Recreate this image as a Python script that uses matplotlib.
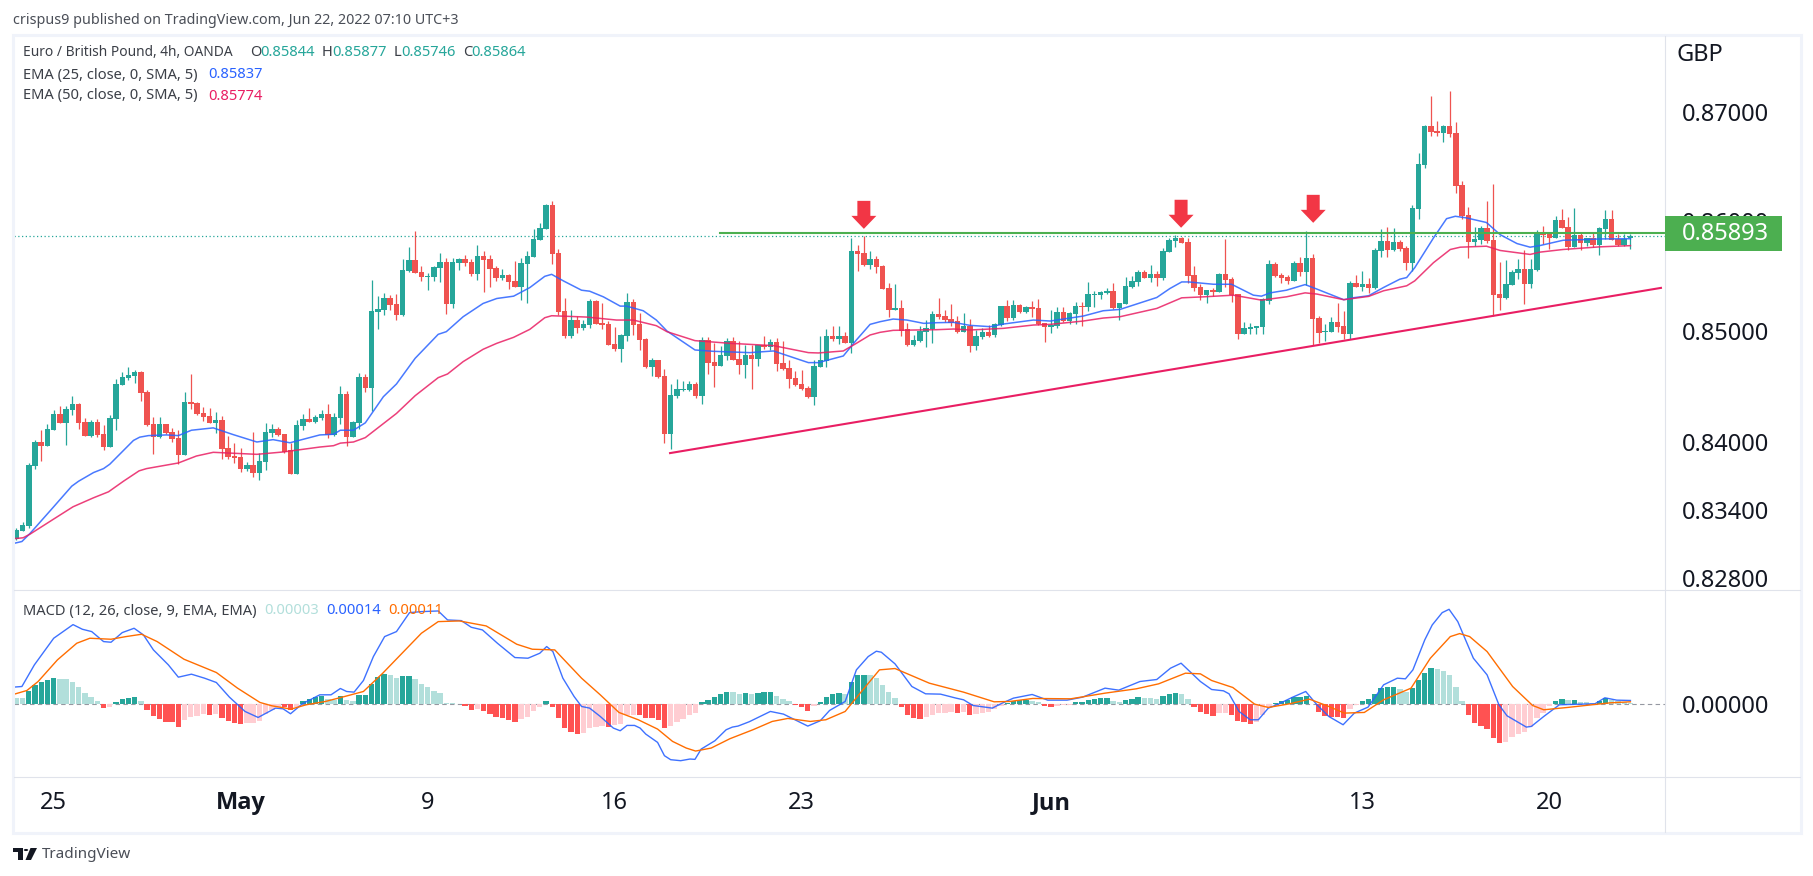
#!/usr/bin/env python3
"""EUR/GBP 4h candles with EMA 25/50 and a MACD pane, TradingView look."""
import numpy as np
import matplotlib
matplotlib.use('Agg')
import matplotlib.pyplot as plt
from matplotlib.lines import Line2D
from matplotlib.patches import Polygon, Rectangle, Circle

W, H = 1813, 876
plt.rcParams['font.family'] = ['Noto Sans', 'DejaVu Sans']

# candles, in pips above 0.85000
OPEN_PIPS = [
    -186, -179, -174, -121.2, -99.9, -103.2, -88.8, -74.7, -82.5, -70.8,
    -65.7, -81.9, -94.2, -81.9, -92.7, -104.1, -78.9, -48.3, -42.3, -40.2,
    -36.9, -54.9, -83.7, -95.1, -83.7, -90.9, -96.3, -111.6, -63.9, -64.8,
    -73.8, -76.5, -82.8, -80.1, -105.3, -112.5, -113.4, -123.3, -119.7, -126.9,
    -117, -91.8, -88.2, -92.7, -107.1, -127.8, -85.5, -79.2, -81.9, -78.3,
    -74.7, -93.6, -78.3, -56.7, -95.4, -82.8, -41.4, -51.3, 17.1, 18.9,
    29.7, 24.3, 14.4, 54, 63.9, 53.1, 48.9, 48.6, 56.7, 62.1,
    24.3, 61.2, 64.8, 62.1, 51.3, 68.4, 64.8, 56.7, 47.7, 50.4,
    45, 39.6, 60.3, 67.5, 82.8, 92.7, 114.3, 71.1, 18, -4.5,
    9.9, 2.7, 5.4, 27, 7.2, 6.3, -11.7, -16.2, -4.5, 26.1,
    6.3, -7.2, -32.4, -26.1, -40.5, -92.7, -58.5, -53.1, -53.1, -47.7,
    -58.5, -8.1, -27.9, -31.5, -22.5, -9, -25.2, -30.6, -21.6, -25.2,
    -12.6, -14.4, -9.9, -28.8, -33.3, -42.3, -47.7, -51.3, -59.4, -32.4,
    -27, -4.5, -7.2, -4.5, -10.8, 72.9, 71.1, 59.4, 64.8, 58.5,
    38.7, 18.9, 20.7, 1.8, -12.6, -9, -0.9, 1.8, 15.3, 13.5,
    10.8, 9, -0.9, 4.5, -13.5, -5.4, -0.9, -3.6, 5.4, 22.5,
    11.7, 23.4, 17.1, 21.6, 20.7, 7.2, 3.6, 4.5, 17.1, 9,
    15.3, 22.5, 21.6, 32.4, 32.4, 34.2, 36, 20.7, 24.3, 39.6,
    44.1, 53.1, 47.7, 51.3, 47.7, 72, 81.9, 84.6, 81, 50.4,
    39.6, 32.4, 36.9, 35.1, 51.3, 46.8, 33.3, -2.7, 1.8, 2.7,
    3.6, 27.3, 60.3, 50.4, 48.6, 45, 61.2, 53.1, 65.7, 11.7,
    -0.8, -0.8, 8.2, 4.6, -2.6, 43.3, 39.7, 42.4, 38.8, 72.1,
    82, 73, 81.1, 74.8, 61.3, 111.2, 151.4, 186.9, 182.4, 180.5,
    186.9, 180.5, 133.1, 105.8, 81.1, 82.9, 93.7, 82.9, 33.4, 29.8,
    41.5, 52.3, 55.9, 42.4, 55, 88.3, 88.3, 84.7, 101.2, 94.6,
    76.6, 87.4, 80.2, 84.7, 78.4, 92.8, 102.1, 83.8, 78.4, 84.4,
]
HIGH_PIPS = [
    -176, -171, -118, -98.1, -89.1, -83.7, -71.1, -67.5, -67.5, -58.5,
    -64.8, -78.3, -80.1, -79.2, -84.6, -75.6, -43.2, -36.9, -32.4, -35.1,
    -36, -53.1, -77.4, -77.4, -83.7, -87.3, -89.1, -54.9, -38.7, -63.9,
    -68.4, -69.3, -72.9, -76.5, -94.5, -100.8, -105.3, -117, -90.9, -109.8,
    -82.8, -83.7, -86.4, -92.7, -100.8, -80.1, -74.7, -69.3, -75.6, -71.1,
    -65.7, -73.8, -49.5, -54, -81, -37.8, -38.7, 45.9, 31.5, 34.2,
    32.4, 33.3, 64.8, 76.5, 90.9, 58.5, 52.2, 58.5, 71.1, 66.6,
    65.7, 65.7, 69.3, 64.8, 78.3, 72.9, 69.3, 58.5, 55.8, 51.3,
    63, 65.7, 72.9, 92.7, 98.1, 115.2, 117.9, 74.7, 29.7, 18.9,
    13.5, 9.9, 28.8, 27.9, 25.2, 9, 3.6, -2.7, 34.2, 28.8,
    16.2, -6.3, -24.3, -26.1, -34.2, -47.7, -43.2, -45, -45, -45.9,
    -5.4, -5.4, -10.8, -13.5, -6.3, -5.4, -9, -12.6, -12.6, -12.6,
    -4.5, -7.2, -6.3, -9, -26.1, -36, -35.1, -49.5, -26.1, -4.5,
    1.8, 4.5, 4.5, -0.9, 84.6, 78.3, 86.4, 72.9, 68.4, 59.4,
    43.2, 42.3, 27.9, 7.2, -3.6, 4.5, 9.9, 18, 29.7, 18.9,
    24.3, 13.5, 16.2, 10.8, 0.9, 2.7, 5.4, 7.2, 22.5, 27.9,
    27.9, 24.3, 22.5, 27, 28.8, 7.2, 18.9, 21.6, 21.6, 17.1,
    26.1, 26.1, 44.1, 36, 36, 38.7, 43.2, 25.2, 48.6, 49.5,
    54.9, 54.9, 59.4, 54, 75.6, 84.6, 87.3, 85.5, 84.6, 58.5,
    42.3, 36.9, 38.7, 52.2, 83.7, 48.6, 33.3, 8.1, 7.2, 4.5,
    29.7, 63.9, 62.1, 52.2, 50.4, 63, 67.5, 90.9, 70.2, 13.5,
    6.4, 12.7, 25.3, 18.1, 45.1, 50.5, 54.1, 47.8, 75.7, 92.8,
    94.6, 93.7, 82.9, 77.5, 114.9, 162.3, 187.8, 215.2, 191.5, 187.8,
    219.8, 190.6, 136.8, 113.1, 94.6, 95.5, 118.5, 134, 62.2, 64,
    55, 64.9, 73, 64.9, 91.9, 95.5, 89.2, 104.8, 111.2, 103.9,
    112.1, 89.2, 84.7, 89.2, 94.6, 110.3, 110.3, 88.3, 88.3, 87.7,
]
LOW_PIPS = [
    -187, -179, -176, -123.9, -116.1, -103.2, -89.1, -82.5, -102.3, -75.3,
    -88.2, -94.2, -95.1, -95.1, -106.8, -104.1, -89.1, -48.3, -44.1, -46.8,
    -63, -85.5, -110.7, -96.3, -92.7, -99.9, -118.8, -111.6, -70.2, -75.6,
    -81, -82.8, -91.8, -115.2, -115.2, -117.9, -126, -125.1, -130.5, -133.2,
    -124.2, -95.4, -94.5, -109.8, -127.8, -127.8, -89.1, -81.9, -82.8, -80.1,
    -96.3, -94.5, -83.7, -103.5, -95.4, -88.2, -54.9, -72, 1.8, 14.4,
    18.9, 9.9, 13.5, 53.1, 52.2, 45, 36.9, 45, 44.1, 15.3,
    20.7, 54.9, 58.5, 49.5, 45.9, 35.1, 39.6, 45, 45.9, 37.8,
    39.6, 27.9, 25.2, 67.5, 82.8, 92.7, 60.3, 14.4, -6.3, -6.3,
    -1.8, 0.9, 2.7, 6.3, 1.8, -12.6, -18, -27.9, -9, -3.6,
    -17.1, -33.3, -40.5, -42.3, -100.8, -106.2, -60.3, -54, -54, -60.3,
    -65.7, -38.7, -50.4, -31.5, -26.1, -26.1, -38.7, -42.3, -52.2, -31.5,
    -16.2, -17.1, -36, -35.1, -51.3, -49.5, -53.1, -60.3, -66.6, -32.4,
    -32.4, -9, -11.7, -10.8, -19.8, 54, 58.5, 55.8, 52.2, 37.8,
    12.6, 18.9, -4.5, -13.5, -13.5, -9.9, -14.4, -10.8, 10.8, 8.1,
    4.5, -1.8, -0.9, -18.9, -17.1, -7.2, -5.4, -5.4, 4.5, 9,
    9.9, 16.2, 16.2, 12.6, 5.4, -9.9, -1.8, 2.7, 8.1, 6.3,
    6.3, 4.5, 18, 21.6, 28.8, 33.3, 19.8, 9.9, 24.3, 38.7,
    40.5, 47.7, 44.1, 40.5, 45.9, 72, 76.5, 80.1, 43.2, 36,
    27.9, 25.2, 31.5, 35.1, 39.6, 26.1, -7.2, -2.7, -2.7, -2.7,
    -2.7, 24.3, 48.6, 43.2, 42.3, 45, 49.5, 41.4, -12.6, -10.8,
    -8.9, -0.8, -0.8, -7.1, -7.1, 39.7, 36.1, 34.3, 37.9, 66.7,
    66.7, 72.1, 72.1, 55, 54.1, 102.1, 148.6, 177.8, 177.8, 172.3,
    176.9, 125.8, 102.1, 65.8, 77.5, 79.3, 80.2, 13.6, 19, 28.9,
    41.5, 46.9, 24.4, 38.8, 54.1, 79.3, 73.9, 84.7, 93.7, 73,
    76.6, 73, 77.5, 76.6, 68.5, 83.8, 82.9, 77.5, 77.5, 74.6,
]
CLOSE_PIPS = [
    -178, -173.7, -120, -99.9, -103.2, -88.2, -74.7, -82.5, -70.2, -65.7,
    -82.5, -94.2, -81.9, -93.6, -104.1, -78.3, -47.7, -41.4, -39.6, -36.9,
    -55.5, -84.6, -95.1, -83.7, -91.8, -96.9, -111.6, -63.9, -65.7, -74.7,
    -77.4, -82.5, -80.1, -106.2, -113.4, -114.3, -123.3, -119.7, -126.9, -116.1,
    -90.9, -88.2, -93.6, -108.9, -127.8, -84.6, -79.2, -81.9, -77.4, -74.7,
    -93.6, -77.4, -56.7, -95.4, -81.9, -41.4, -51.3, 18, 19.8, 29.7,
    23.4, 14.4, 54.9, 63.9, 52.2, 48.6, 49.5, 57.6, 62.1, 24.3,
    62.1, 64.8, 61.2, 51.3, 68.4, 63.9, 55.8, 47.7, 50.4, 44.1,
    39.6, 61.2, 68.4, 83.7, 93.6, 114.3, 70.2, 17.1, -4.5, 9.9,
    2.7, 6.3, 27, 6.3, 5.4, -12.6, -16.2, -3.6, 26.1, 5.4,
    -8.1, -32.4, -26.1, -41.4, -92.7, -57.6, -52.2, -52.2, -47.7, -58.5,
    -8.1, -28.8, -31.5, -21.6, -9, -26.1, -30.6, -21.6, -25.2, -12.6,
    -14.4, -9.9, -29.7, -34.2, -43.2, -48.6, -52.2, -59.4, -31.5, -26.1,
    -4.5, -7.2, -4.5, -10.8, 72.9, 70.2, 59.4, 64.8, 57.6, 37.8,
    18.9, 20.7, 0, -12.6, -8.1, 0, 2.7, 15.3, 12.6, 9.9,
    7.2, -0.9, 4.5, -13.5, -4.5, -0.9, -4.5, 6.3, 22.5, 11.7,
    23.4, 17.1, 21.6, 19.8, 6.3, 3.6, 5.4, 17.1, 9, 16.2,
    22.5, 21.6, 33.3, 33.3, 35.1, 36, 20.7, 25.2, 40.5, 45,
    53.1, 47.7, 51.3, 47.7, 72.9, 82.8, 84.6, 80.1, 49.5, 38.7,
    32.4, 36.9, 35.1, 51.3, 45.9, 32.4, -2.7, 2.7, 3.6, 4.5,
    28.5, 60.3, 49.5, 47.7, 45, 61.2, 53.1, 65.7, 10.8, -1.8,
    0.1, 8.2, 3.7, -2.6, 43.3, 39.7, 42.4, 38.8, 73, 82,
    73, 81.1, 73.9, 61.3, 112.1, 152.3, 186.9, 181.5, 180.5, 186.9,
    179.6, 132.2, 104.8, 81.1, 83.8, 93.7, 81.7, 32.5, 29.8, 42.4,
    53.2, 55.9, 42.4, 55.9, 88.3, 87.4, 84.7, 101.2, 93.7, 76.6,
    87.4, 80.2, 84.7, 78.4, 93.7, 102.1, 82.9, 78.4, 83.8, 86.4,
]

# moving averages: bar index and pips above 0.85000 at each vertex
EMA25_BAR = [
    -0.5, 0.9, 2.2, 5.9, 8.9, 10, 12.4, 14, 15, 18.8, 19.8, 21.2, 24.1, 26, 28.1, 31.6, 34.8, 38.6,
    41.2, 43.9, 48.7, 50.9, 52, 54.1, 56, 58.9, 61, 64, 67.7, 69, 71.7, 74.9, 77.1, 79.8, 82.4, 84.8,
    85.9, 87.8, 90.7, 92, 94.2, 96.9, 97.9, 100.6, 102.7, 104.4, 108.9, 111.8, 117.7, 121.5, 127.1,
    128.7, 132.7, 134.8, 137, 138.6, 140.7, 142.9, 145.6, 147.7, 150.4, 153, 156.3, 158.4, 163.2,
    165.9, 171.2, 174.4, 177.1, 183, 185.1, 187, 188.1, 192.1, 195, 198.5, 199.8, 201.2, 203.8, 206.8,
    208.7, 213, 214.6, 217, 219.4, 222, 223.1, 224.4, 227.4, 229.5, 230.9, 232.7, 235.9, 238.1, 240.8,
    242.9, 244.5, 248.2, 251.5, 254.1, 259,
]
EMA25_PIPS = [
    -189.7, -187.9, -180.8, -157.8, -138.9, -134.5, -126.8, -123.3, -119.4, -98.2, -95.3, -93.9, -93.3,
    -93.9, -89.1, -87, -93, -99.6, -97.5, -100.3, -93.3, -92.7, -89.1, -89.1, -82.5, -59.1, -47.7, -24.6,
    -3, -0.6, 12.9, 24.9, 29.4, 31.5, 39.3, 49.5, 51.3, 45.3, 36.9, 36, 30.9, 22.5, 22.5, 18.3, 9.9, 0,
    -17.1, -18.3, -19.5, -18, -28.5, -28.5, -22.5, -8.1, 6, 8.4, 10.8, 9.9, 6.9, 7.5, 7.8, 5.1, 3.9, 6.3,
    9.9, 9, 13.5, 18.3, 19.5, 30.3, 38.4, 44.4, 44.4, 42.3, 42.3, 32.4, 31.5, 34.5, 36.9, 42,
    37.9, 28.3, 30.1, 31.9, 39.4, 46.9, 48.4, 57.4, 84.4, 102, 104.2, 102.7, 98.5, 87.4, 79.3,
    76, 77.5, 82.3, 82.9, 83.5, 83.7,
]
EMA50_BAR = [
    -0.5, 1.1, 2.2, 5.9, 9.1, 12.4, 14.8, 17.2, 19.7, 20.9, 26, 28.9, 31.6, 38.6, 42.8, 48.7, 50.9, 52,
    54.1, 56, 61, 64, 67.7, 69.2, 71.7, 74.9, 77.1, 79.8, 82.4, 84.8, 85.9, 91.5, 96.3, 99, 102.7,
    104.4, 108.9, 114.5, 121.5, 127.1, 128.7, 132.7, 134.8, 137, 138.6, 140.7, 147.7, 150.4, 153,
    156.3, 158.4, 163.2, 165.9, 171.2, 174.4, 177.1, 183, 187, 190.5, 195.3, 199.8, 203.8, 206.8, 208.7,
    213, 217, 219.4, 223.1, 224.4, 227.4, 230.1, 231.7, 235.9, 238.1, 242.9, 244.5, 248.2, 254.1, 259,
]
EMA50_PIPS = [
    -185.5, -184.6, -181.4, -168.4, -157.2, -149.2, -143.9, -134.5, -125.3, -123.3, -118.3, -112.1, -108.8,
    -110.6, -108.5, -104.1, -102.9, -100.6, -99.6, -95.7, -74.1, -58.2, -42, -38.7, -27.6, -16.5, -11.1,
    -5.7, 1.5, 12, 13.8, 12.6, 9.9, 9.9, 4.8, -0.6, -8.7, -11.1, -13.2, -19.5, -19.8, -18, -11.1, -3.6,
    -1.2, 0.6, 1.2, 1.8, 0.9, 1.8, 2.4, 5.4, 6, 9, 11.7, 12.9, 20.4, 30, 30.9, 32.4, 27.9, 30.9, 34.5,
    33.4, 28.3, 31.3, 36.4, 40.9, 45.4, 61.9, 73.9, 76, 76.9, 73, 69.4, 71.5, 73.9, 76.3, 77.4,
]

# levels drawn on the chart
CLOSE_LEVEL = 0.85864
RESIST_LEVEL = 0.85893
RESIST_START_BAR = 112.9
TREND_BARS = [104.9, 263.9]
TREND_PIPS = [-109.5, 39]
ARROW_BARS = [136, 186.9, 208.1]
ARROW_PIPS = [92.7, 93.7, 98.2]

# MACD pane, readings in units of MACD_UNIT
MACD_UNIT = 1.33e-5
HIST = [
    19, 17, 38, 58, 68, 73, 79, 77, 75, 68, 52, 34, 22, 8, -11, -10, 5, 14, 17, 20,
    8, -17, -37, -46, -53, -55, -68, -49, -39, -35, -31, -33, -31, -41, -50, -56, -59, -58, -58, -50,
    -30, -18, -8, -10, -18, -10, 10, 16, 20, 23, 14, 12, 25, 13, 10, 26, 28, 60, 83, 91,
    87, 80, 84, 86, 76, 62, 50, 40, 32, 3, 3, 1, -7, -17, -14, -20, -29, -39, -41, -47,
    -53, -44, -38, -22, -10, 8, -8, -41, -71, -83, -89, -88, -73, -70,
    -66, -68, -64, -59, -33, -32, -33, -41, -42, -47, -71, -65, -53, -44, -32, -26,
    6, 13, 21, 29, 37, 36, 31, 32, 31, 34, 35, 36, 25, 16, 8, -4, -10, -20, -7, 6,
    20, 29, 34, 31, 68, 87, 88, 87, 80, 58, 35, 17, -10, -32, -41, -44, -40, -32, -28, -26,
    -23, -26, -25, -32, -29, -26, -23, -16, -5, 3, 8, 12, 13, 10, 5, -5, -8, -5, -4, -3,
    5, 6, 11, 14, 17, 18, 10, 5, 11, 14, 20, 19, 17, 14, 23, 31, 34, 31, 14, -8,
    -24, -29, -35, -27, -26, -32, -50, -55, -59, -55, -33, -10, 3, 8, 11, 20, 22, 25, 1, -23,
    -35, -38, -39, -41, -16, -2, 8, 14, 31, 49, 50, 51, 46, 35, 49, 73, 95, 109, 106, 100,
    88, 52, 10, -32, -57, -65, -75, -101, -116, -113, -100, -90, -83, -68, -41, -26, -5, 8, 14, 11,
    12, 6, 5, 3, 8, 17, 11, 8, 5, 3,
]
MACD_BAR = [
    -0.5, 0.9, 2.9, 6, 9.1, 10.6, 12.1, 14, 15.2, 17, 18.9, 20.4, 22, 24.4, 26, 28.1, 30.2, 32.1, 34.2,
    36.7, 38.8, 41.6, 42.8, 44, 45.9, 48.7, 50.5, 52, 53, 54.2, 55.7, 57.3, 59.1, 61, 63.1, 65, 67.7,
    69.2, 71.4, 73, 74.8, 77.2, 80, 82.1, 84, 85.1, 86.1, 87.7, 89.5, 90.7, 92, 93.7,
    95.8, 96.9, 98, 99.2, 100.1, 101, 102.9, 104, 105, 106.6, 108.1, 108.9, 109.9, 112.1, 113.9, 114.9,
    115.8, 117.6, 121, 123.1, 127, 129, 130.5, 133, 134.8, 136.7, 138, 138.8, 141, 143.7, 145.9, 148.3,
    150.8, 152, 153.5, 156.6, 158.2, 160, 163, 165.5, 168.6, 171.1, 174.7, 176.9, 180.3, 183, 185.2,
    186.9, 188.3, 190, 191.8, 193.7, 194.6, 196.2, 198, 199.3, 200.9, 202.5, 204.7, 206.9, 208.7, 210.6,
    212.9, 214.7, 216.9, 219.4, 221.6, 222.9, 224.1, 226, 227.2, 228.8, 229.9, 231.3, 233.8, 236, 237.9,
    239.2, 242.3, 243.1, 245.1, 247.6, 249.2, 253.3, 254.9, 256.8, 259,
]
MACD_VALS = [
    51, 53, 118, 198, 239, 225, 218, 188, 186, 215, 228, 208, 163, 118, 81, 90, 78, 65, 21,
    -22, -40, -12, -14, -29, 1, 28, 28, 47, 38, 36, 71, 143, 203, 218, 275, 278, 280,
    253, 251, 231, 223, 183, 140, 138, 153, 173, 158, 78, 23, -7, -12, -37,
    -72, -80, -64, -64, -72, -90, -115, -155, -167, -170, -165, -166, -135, -110, -77, -69,
    -66, -53, -22, -30, -66, -50, -19, 8, 103, 143, 159, 156, 121, 53, 31, 30,
    18, 13, -4, -12, 3, 18, 29, 12, 12, 21, 48, 42, 68, 74, 108,
    123, 98, 68, 44, 40, 31, -22, -47, -47, -12, 0, 20, 38, -2, -37,
    -62, -27, -9, 58, 78, 76, 103, 193, 238, 275, 285, 248, 138, 88, -2,
    -35, -69, -67, -37, -2, -1, 1, 19, 12, 11,
]
SIGNAL_BAR = [
    -0.5, 1.7, 3.5, 6.6, 9.7, 11.8, 15.2, 17.6, 20.1, 22.6, 26.9, 32.1, 35.5, 39.1, 41, 44.1, 46.5, 49.6,
    52.7, 55.7, 58.8, 61.9, 65, 67.7, 71.1, 75.4, 80.3, 82.8, 86.4, 90.7, 93.7,
    96.7, 99.8, 102.9, 105.3, 107.5, 109, 111.5, 114.5, 118.2, 121.3, 123.8, 127.4, 129.9, 133, 135.4,
    138.5, 141, 146.5, 152, 156.9, 159.4, 163.1, 169.2, 174.7, 179.7, 183.3, 187.6, 190,
    191.8, 195.2, 198.7, 200.9, 204.3, 207.5, 210.6, 213.1, 216.3, 219.4, 223.8, 226.9, 230.1, 231.6,
    233.2, 236, 240.1, 243.3, 245.1, 248.9, 253.3, 255.8, 259,
]
SIGNAL_VALS = [
    29, 41, 68, 133, 183, 198, 195, 203, 210, 188, 135, 95, 48, 5, -5, -15, -2, 8,
    23, 38, 93, 153, 213, 248, 250, 235, 180, 165, 163, 78, 28,
    -25, -47, -75, -112, -132, -141, -132, -104, -77, -52, -43, -52, -47, -22, 33,
    103, 107, 63, 36, 7, 8, 17, 16, 33, 46, 61, 93, 91,
    71, 50, 0, -10, 1, 15, -7, -27, -25, 13, 48, 138, 203, 212,
    203, 158, 53, -4, -17, -10, -1, 4, 7,
]

PRICE_TICKS = [0.828, 0.834, 0.84, 0.85, 0.86, 0.87]
DATE_TICKS = [6, 36, 66, 96, 126, 166, 216, 246]
DATE_LABELS = ['25', 'May', '9', '16', '23', 'Jun', '13', '20']

GREEN = '#26a69a'
RED = '#ef5350'
BLUE = '#2962ff'
PINK = '#e91e63'
ORANGE = '#ff6d00'
BORDER = '#f0f3fa'
GRID = '#e0e3eb'
INK = '#131722'
LEGEND_INK = '#3b3f47'
BIG = 17.0
SMALL = 10.6

PANE_L, PANE_R, PANE_T, PANE_M, PANE_B, OUT_R, OUT_B = 14, 1665, 36, 590, 777, 1800, 832
XLIM = (-0.37, 264.55)


def pips(values):
    return 0.85 + np.asarray(values, dtype=float) / 1e4


def panel(left, top, right, bottom):
    ax = fig.add_axes([left / W, 1 - bottom / H, (right - left) / W, (bottom - top) / H])
    ax.patch.set_alpha(0)
    for s in ax.spines.values():
        s.set_visible(False)
    return ax


def put(x, y, s, color=LEGEND_INK, size=SMALL, **kw):
    fig.text(x / W, 1 - y / H, s, color=color, fontsize=size, va='center', **kw)


def rule(x0, y0, x1, y1, color=GRID, lw=0.8):
    fig.add_artist(Line2D([x0 / W, x1 / W], [1 - y0 / H, 1 - y1 / H], color=color, lw=lw,
                          transform=fig.transFigure))


def box(l, t, r, b, **kw):
    fig.add_artist(Rectangle((l / W, 1 - b / H), (r - l) / W, (b - t) / H,
                             transform=fig.transFigure, **kw))


fig = plt.figure(figsize=(W / 100, H / 100), dpi=100, facecolor='white')

# price pane
ax = panel(PANE_L, PANE_T, PANE_R, PANE_M)
ax.set_yscale('log')
ax.set_xlim(*XLIM)
ax.set_ylim(0.82694, 0.87705)

bars = np.arange(len(CLOSE_PIPS))
o, h, l, c = pips(OPEN_PIPS), pips(HIGH_PIPS), pips(LOW_PIPS), pips(CLOSE_PIPS)
colors = [GREEN if ci >= oi else RED for oi, ci in zip(o, c)]
ax.vlines(bars, l, h, colors=colors, lw=0.9, zorder=2)
ax.bar(bars, np.abs(c - o), bottom=np.minimum(o, c), width=0.88, color=colors, lw=0, zorder=3)

ax.plot(EMA25_BAR, pips(EMA25_PIPS), color=BLUE, lw=1.1, alpha=0.85, zorder=4)
ax.plot(EMA50_BAR, pips(EMA50_PIPS), color=PINK, lw=1.1, alpha=0.85, zorder=4)

ax.axhline(CLOSE_LEVEL, color=GREEN, lw=0.9, ls=(0, (1, 2)), zorder=1)
ax.plot([RESIST_START_BAR, XLIM[1]], [RESIST_LEVEL, RESIST_LEVEL], color='#4caf50', lw=1.5, zorder=5)
ax.plot(TREND_BARS, pips(TREND_PIPS), color=PINK, lw=1.5, zorder=5, clip_on=False)

ax.set_xticks([])
ax.yaxis.tick_right()
ax.set_yticks(PRICE_TICKS, [f'{t:.5f}' for t in PRICE_TICKS])
ax.minorticks_off()
ax.tick_params(axis='y', length=0, pad=12, labelsize=BIG, labelcolor=INK)

# red arrows over the three touches
for bar, p in zip(ARROW_BARS, pips(ARROW_PIPS)):
    tx, ty = ax.transData.transform((bar, p))
    verts = [(0, 0), (12.5, 13), (6.5, 13), (6.5, 28), (-6.5, 28), (-6.5, 13), (-12.5, 13)]
    fig.add_artist(Polygon([((tx + dx) / W, (ty + dy) / H) for dx, dy in verts], closed=True,
                           facecolor='#f23645', edgecolor='none', transform=fig.transFigure, zorder=3))

# MACD pane
mx = panel(PANE_L, PANE_M, PANE_R, PANE_B)
mx.set_xlim(*XLIM)
mx.set_ylim(-219 * MACD_UNIT, 343 * MACD_UNIT)
hist = np.array(HIST) * MACD_UNIT
prev = np.r_[hist[0] + 1, hist[:-1]]
hist_colors = [('#26a69a' if v > q else '#b2dfdb') if v >= 0 else ('#ff5252' if v < q else '#ffcdd2')
               for v, q in zip(hist, prev)]
mx.axhline(0, color='#9598a1', lw=0.8, ls=(0, (4, 3)), zorder=1)
mx.bar(bars, hist, width=0.86, color=hist_colors, lw=0, zorder=2)
mx.plot(MACD_BAR, np.array(MACD_VALS) * MACD_UNIT, color=BLUE, lw=1.0, alpha=0.9, zorder=3)
mx.plot(SIGNAL_BAR, np.array(SIGNAL_VALS) * MACD_UNIT, color=ORANGE, lw=1.0, zorder=3)
mx.yaxis.tick_right()
mx.set_yticks([0], ['0.00000'])
mx.set_xticks(DATE_TICKS, DATE_LABELS)
mx.tick_params(axis='y', length=0, pad=12, labelsize=BIG, labelcolor=INK)
mx.tick_params(axis='x', length=0, pad=10, labelsize=BIG, labelcolor=INK)
for lab in mx.get_xticklabels():
    if lab.get_text() in ('May', 'Jun'):
        lab.set_family('Open Sans')
        lab.set_fontweight('bold')

# frame and separators
box(12.5, 34.5, OUT_R + 0.5, OUT_B + 0.5, facecolor='none', edgecolor=BORDER, lw=2.2, zorder=2)
rule(PANE_R, PANE_T, PANE_R, OUT_B)
rule(PANE_L, PANE_M, OUT_R, PANE_M)
rule(PANE_L, PANE_B, OUT_R, PANE_B)

# last price tag, sits over the 0.86000 tick label
box(1665, 216, 1781.5, 251, facecolor='#4caf50', edgecolor='none', zorder=3)
put(1682, 233.5, '0.85893', color='white', size=BIG, zorder=4)
put(1677, 55, 'GBP', color=INK, size=BIG)

# header and legends
put(13, 20, 'crispus9 published on TradingView.com, Jun 22, 2022 07:10 UTC+3', color='#4a4e57', size=10.3)
put(23, 53, 'Euro / British Pound, 4h, OANDA', size=9.9)
for x, label, vx, value in [(250, 'O', 260, '0.85844'), (322, 'H', 332, '0.85877'),
                            (394, 'L', 401, '0.85746'), (463, 'C', 471, '0.85864')]:
    put(x, 53, label)
    put(vx, 53, value, color=GREEN)
put(23, 75, 'EMA (25, close, 0, SMA, 5)')
put(208, 75, '0.85837', color=BLUE)
put(23, 96, 'EMA (50, close, 0, SMA, 5)')
put(208, 96, '0.85774', color=PINK)
put(23, 611, 'MACD (12, 26, close, 9, EMA, EMA)')
put(264, 611, '0.00003', color='#b2dfdb')
put(326, 611, '0.00014', color=BLUE)
put(388, 611, '0.00011', color=ORANGE)

# TradingView mark
logo = '#131722'
box(13, 848, 23, 852, facecolor=logo, edgecolor='none')
box(18, 848, 23, 860, facecolor=logo, edgecolor='none')
fig.add_artist(Circle((26 / W, 1 - 850 / H), 2.2 / W, transform=fig.transFigure, facecolor=logo, edgecolor='none'))
fig.add_artist(Polygon([(30.5 / W, 1 - 848 / H), (37 / W, 1 - 848 / H), (31 / W, 1 - 860 / H), (25.5 / W, 1 - 860 / H)],
                       closed=True, facecolor=logo, edgecolor='none', transform=fig.transFigure))
put(42, 855, 'TradingView', color='#4a4e57', size=11)

fig.savefig('out.png', dpi=100)
